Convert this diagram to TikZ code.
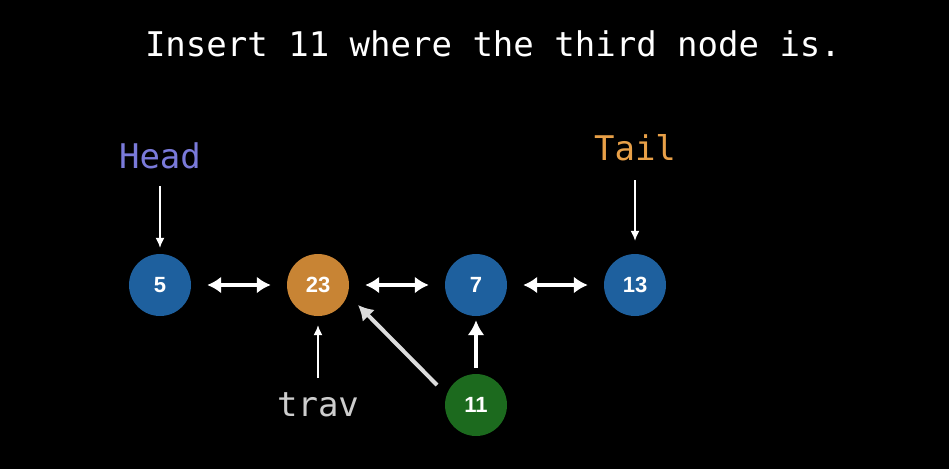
\documentclass[tikz,border=0pt]{standalone}
\usepackage{fontspec}
\setmainfont{DejaVu Sans Mono}
\newfontfamily\numfont{Liberation Sans}
\usetikzlibrary{arrows.meta}
\definecolor{bluenode}{RGB}{30,96,158}
\definecolor{orangenode}{RGB}{200,132,52}
\definecolor{greennode}{RGB}{28,106,30}
\definecolor{headcol}{RGB}{122,122,218}
\definecolor{tailcol}{RGB}{232,160,72}
\definecolor{travcol}{RGB}{205,205,205}
\tikzset{
  listnode/.style={circle, minimum size=62pt, inner sep=0pt, text=white,
    font=\numfont\bfseries\fontsize{22}{22}\selectfont},
  label/.style={font=\fontsize{34}{34}\selectfont, inner sep=0pt},
  link/.style={white, line width=4pt, {Latex[length=14pt,width=17pt]}-{Latex[length=14pt,width=17pt]},
    shorten <=16pt, shorten >=16pt},
  ptr/.style={white, line width=1.4pt, -{Latex[length=10pt,width=9pt]}},
  newptr/.style={line width=4pt, -{Latex[length=15pt,width=17pt]}}
}
\begin{document}
\begin{tikzpicture}[x=1pt,y=-1pt]
  \fill[black] (0,0) rectangle (949,469);
  \useasboundingbox (0,0) rectangle (949,469);

  \node[label, text=white] (title) at (493,44) {Insert 11 where the third node is.};

  \node[listnode, fill=bluenode]   (n5)  at (160,285) {5};
  \node[listnode, fill=orangenode] (n23) at (318,285) {23};
  \node[listnode, fill=bluenode]   (n7)  at (476,285) {7};
  \node[listnode, fill=bluenode]   (n13) at (635,285) {13};
  \node[listnode, fill=greennode]  (n11) at (476,405) {11};

  \node[label, text=headcol] (head) at (160,156) {Head};
  \node[label, text=tailcol] (tail) at (635,148) {Tail};
  \node[label, text=travcol] (trav) at (318,405) {trav};

  % doubly linked list links
  \draw[link] (n5) -- (n23);
  \draw[link] (n23) -- (n7);
  \draw[link] (n7) -- (n13);

  % pointer start points
  \path (head) ++(0,30) coordinate (h0);
  \path (tail) ++(0,32) coordinate (t0);
  \path (trav) ++(0,-27) coordinate (v0);
  \path (n11) ++(0,-37) coordinate (g0);
  \path (n11) ++(-39,-20) coordinate (d0);
  \path (n23) ++(40,20) coordinate (d1);

  \draw[ptr] (h0) -- ([yshift=6pt]n5.north);
  \draw[ptr] (t0) -- ([yshift=13pt]n13.north);
  \draw[ptr] (v0) -- ([yshift=-9pt]n23.south);

  % links of the new node
  \draw[newptr, white] (g0) -- ([yshift=-4pt]n7.south);
  \draw[newptr, travcol!70!white] (d0) -- (d1);
\end{tikzpicture}
\end{document}
